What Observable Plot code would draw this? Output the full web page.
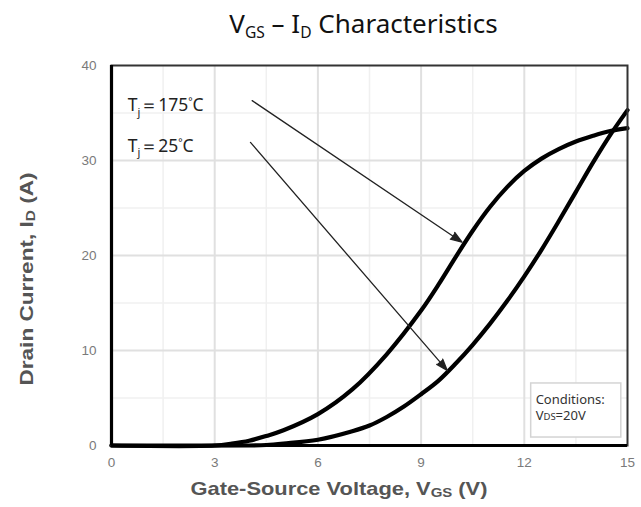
<!DOCTYPE html>
<html>
<head>
<meta charset="utf-8">
<script src="https://cdn.jsdelivr.net/npm/d3@7"></script>
<script src="https://cdn.jsdelivr.net/npm/@observablehq/plot@0.6"></script>
<style>
  body { margin: 0; background: #fff; }
  #title { height: 48px; box-sizing: border-box; width: 641px; padding-left: 86px; padding-top: 8px;
    text-align: center; font-family: "Noto Sans", sans-serif; font-size: 26px; color: #111; line-height: 30px; }
  #title sub { font-size: 0.6em; vertical-align: -0.3em; line-height: 0; }
</style>
</head>
<body>
<div id="title">V<sub>GS</sub> – I<sub>D</sub> Characteristics</div>
<div id="chart"></div>
<script>
// ---- data ----
const xTicks = [0, 3, 6, 9, 12, 15];
const yTicks = [0, 10, 20, 30, 40];
const xMinor = [1.5, 4.5, 7.5, 10.5, 13.5];
const yMinor = [5, 15, 25, 35];

const vgs175 = [0, 3, 3.5, 4, 4.5, 5, 6, 7, 8, 9, 9.5, 10, 10.5, 11, 11.5, 12, 12.5, 13, 13.5, 14, 14.5, 15];
const id175  = [0, 0, 0.2, 0.5, 1.0, 1.6, 3.3, 5.9, 9.6, 14.2, 16.9, 19.8, 22.6, 25.1, 27.2, 28.9, 30.2, 31.2, 32.0, 32.6, 33.1, 33.4];

const vgs25 = [0, 4, 4.5, 5, 6, 7, 7.5, 8, 8.5, 9, 9.5, 10, 10.5, 11, 11.5, 12, 12.5, 13, 13.5, 14, 14.5, 15];
const id25  = [0, 0, 0.05, 0.2, 0.6, 1.5, 2.1, 3.0, 4.1, 5.4, 6.8, 8.6, 10.6, 12.8, 15.2, 17.8, 20.6, 23.6, 26.7, 29.8, 32.7, 35.3];

const tjLabels = ["Tj=175°C", "Tj=25°C"];
const tjLabelX = [0.47, 0.47];
const tjLabelY = [35.8, 31.5];

const arrowFromX = [4.09, 4.04];
const arrowFromY = [36.3, 31.9];
const arrowToX = [10.19, 9.76];
const arrowToY = [21.4, 7.9];

const condBoxX = [12.2, 14.82];
const condBoxY = [0.84, 6.53];
const condLines = ["Conditions:", "VDS=20V"];
const condLineX = [12.33, 12.33];
const condLineY = [4.85, 3.1];

const xLabel = "Gate-Source Voltage, VGS (V)";
const yLabel = "Drain Current, ID (A)";

// ---- tables ----
const s175 = vgs175.map((v, i) => ({v, id: id175[i]}));
const s25 = vgs25.map((v, i) => ({v, id: id25[i]}));
const idx2 = [0, 1];

const plot = Plot.plot({
  width: 641,
  height: 459,
  marginTop: 17,
  marginBottom: 62,
  marginLeft: 111,
  marginRight: 14,
  style: {fontFamily: "'Liberation Sans', Arial, sans-serif", fontSize: "13px", background: "#fff"},
  x: {domain: [0, 15]},
  y: {domain: [0, 40]},
  marks: [
    Plot.ruleX(xMinor, {stroke: "#f0f0f0", strokeWidth: 1.5}),
    Plot.ruleY(yMinor, {stroke: "#f0f0f0", strokeWidth: 1.5}),
    Plot.ruleX(xTicks.slice(1, -1), {stroke: "#e0e0e0", strokeWidth: 2}),
    Plot.ruleY(yTicks.slice(1, -1), {stroke: "#e0e0e0", strokeWidth: 2}),
    Plot.axisX(xTicks, {tickSize: 0, tickPadding: 12, fill: "#7a7a7a", fontSize: 13.5, label: null}),
    Plot.axisY(yTicks, {tickSize: 0, tickPadding: 15, fill: "#7a7a7a", fontSize: 13.5, label: null}),
    Plot.rect(idx2.slice(0, 1), {x1: () => condBoxX[0], x2: () => condBoxX[1], y1: () => condBoxY[0], y2: () => condBoxY[1],
      fill: "#fff", stroke: "#d4d4d4", strokeWidth: 1.5}),
    Plot.line(s175, {x: "v", y: "id", stroke: "#000", strokeWidth: 4.2, curve: "catmull-rom"}),
    Plot.line(s25, {x: "v", y: "id", stroke: "#000", strokeWidth: 4.2, curve: "catmull-rom"}),
    Plot.frame({stroke: "#333", strokeWidth: 2}),
    Plot.ruleX([0], {stroke: "#000", strokeWidth: 3.2}),
    Plot.ruleY([0], {stroke: "#000", strokeWidth: 3.2}),
    Plot.arrow(idx2, {x1: i => arrowFromX[i], y1: i => arrowFromY[i], x2: i => arrowToX[i], y2: i => arrowToY[i],
      stroke: "#222", fill: "#222", strokeWidth: 1.3, headLength: 14, headAngle: 38}),
    Plot.text(idx2, {x: i => tjLabelX[i], y: i => tjLabelY[i], text: i => tjLabels[i], textAnchor: "start",
      fontFamily: "'Noto Sans', sans-serif", fontSize: 17.5, fill: "#222"}),
    Plot.text(idx2, {x: i => condLineX[i], y: i => condLineY[i], text: i => condLines[i], textAnchor: "start",
      fontFamily: "'Noto Sans', sans-serif", fontSize: 13, fill: "#333"}),
    Plot.text([xLabel], {frameAnchor: "bottom", textAnchor: "start", dx: -179, dy: 49, fontWeight: "bold", fontSize: 19, fill: "#555"}),
    Plot.text([yLabel], {frameAnchor: "left", textAnchor: "start", dx: -85, dy: 130, rotate: -90, fontWeight: "bold", fontSize: 19, fill: "#555"})
  ]
});

// rich text: subscripts / superscripts inside SVG text
function rich(el, parts, sub, sup) {
  const sel = d3.select(el);
  sel.text(null);
  let shift = 0;
  parts.forEach(p => {
    const target = p.sub ? sub : p.sup ? -sup : 0;
    const ts = sel.append("tspan").text(p.t);
    if (target - shift !== 0) ts.attr("dy", target - shift);
    if (p.size) ts.attr("font-size", p.size);
    shift = target;
  });
}
d3.select(plot).selectAll("text").each(function() {
  const t = this.textContent;
  if (t === tjLabels[0]) rich(this, [{t: "T"}, {t: "j", sub: 1, size: 11}, {t: "＝175"}, {t: "°", sup: 1, size: 10}, {t: "C"}], 4.5, 6);
  else if (t === tjLabels[1]) rich(this, [{t: "T"}, {t: "j", sub: 1, size: 11}, {t: "＝25"}, {t: "°", sup: 1, size: 10}, {t: "C"}], 4.5, 6);
  else if (t === condLines[1]) rich(this, [{t: "V"}, {t: "DS", size: 9.5}, {t: "=20V"}], 0, 0);
  else if (t === xLabel) {
    rich(this, [{t: "Gate-Source Voltage, V"}, {t: "GS", sub: 1, size: 13}, {t: " (V)"}], 2, 0);
    d3.select(this).attr("textLength", 297).attr("lengthAdjust", "spacingAndGlyphs");
  } else if (t === yLabel) {
    rich(this, [{t: "Drain Current, I"}, {t: "D", sub: 1, size: 13}, {t: " (A)"}], 2, 0);
    d3.select(this).attr("textLength", 213).attr("lengthAdjust", "spacingAndGlyphs");
  }
});

document.getElementById("chart").appendChild(plot);
</script>
</body>
</html>
